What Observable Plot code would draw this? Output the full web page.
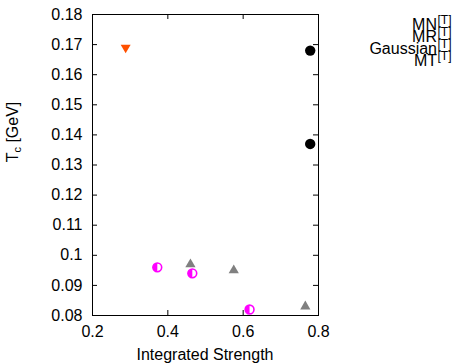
<!DOCTYPE html>
<html>
<head>
<meta charset="utf-8">
<script src="https://cdn.jsdelivr.net/npm/d3@7"></script>
<script src="https://cdn.jsdelivr.net/npm/@observablehq/plot@0.6"></script>
<style>
  body { margin: 0; background: #fff; }
  #wrap { position: relative; width: 454px; height: 363px; font-family: "Liberation Sans", Arial, sans-serif; }
</style>
</head>
<body>
<div id="wrap"></div>
<script>
// Series
const seriesNames = ["MN", "MR", "Gaussian", "MT"];
const blackX = [0.778, 0.778];
const blackY = [0.168, 0.137];
const orangeX = [0.288];
const orangeY = [0.169];
const grayX = [0.460, 0.575, 0.765];
const grayY = [0.097, 0.095, 0.083];
const magentaX = [0.372, 0.465, 0.617];
const magentaY = [0.096, 0.094, 0.082];

const xTicks = [0.2, 0.4, 0.6, 0.8];
const yTicks = [0.08, 0.09, 0.1, 0.11, 0.12, 0.13, 0.14, 0.15, 0.16, 0.17, 0.18];
const xDomain = [0.2, 0.8];
const yDomain = [0.08, 0.18];

const pts = (xs, ys) => xs.map((x, i) => ({x, y: ys[i]}));

const halfLeft = {
  draw(ctx, size) {
    const r = Math.sqrt(size / Math.PI);
    ctx.moveTo(0, -r);
    ctx.arc(0, 0, r, -Math.PI / 2, Math.PI / 2, true);
    ctx.closePath();
  }
};

const W = 454, H = 363;
const mL = 92, mR = 136, mT = 14, mB = 48;
const tick = 5;
const dxTick = (xDomain[1] - xDomain[0]) * tick / (W - mL - mR);
const dyTick = (yDomain[1] - yDomain[0]) * tick / (H - mT - mB);

const chart = Plot.plot({
  width: W, height: H,
  marginLeft: mL, marginRight: mR, marginTop: mT, marginBottom: mB,
  style: {fontSize: "16px", fontFamily: "'Liberation Sans', Arial, sans-serif", background: "white", color: "black"},
  x: {domain: xDomain, label: null},
  y: {domain: yDomain, label: null},
  marks: [
    Plot.axisX({ticks: xTicks, tickSize: 0, tickPadding: 10, tickFormat: d => String(d)}),
    Plot.axisY({ticks: yTicks, tickSize: 0, tickPadding: 10, tickFormat: d => String(+d.toFixed(2))}),
    // inward mirrored ticks
    Plot.ruleX(xTicks, {x: d => d, y1: yDomain[0], y2: yDomain[0] + dyTick, stroke: "black"}),
    Plot.ruleX(xTicks, {x: d => d, y1: yDomain[1], y2: yDomain[1] - dyTick, stroke: "black"}),
    Plot.ruleY(yTicks, {y: d => d, x1: xDomain[0], x2: xDomain[0] + dxTick, stroke: "black"}),
    Plot.ruleY(yTicks, {y: d => d, x1: xDomain[1], x2: xDomain[1] - dxTick, stroke: "black"}),
    Plot.frame({stroke: "black"}),
    Plot.dot(pts(blackX, blackY), {x: "x", y: "y", r: 5.2, fill: "black", stroke: null}),
    Plot.dot(pts(orangeX, orangeY), {x: "x", y: "y", symbol: "triangle", rotate: 180, r: 3.7, fill: "#ff5000", stroke: null}),
    Plot.dot(pts(grayX, grayY), {x: "x", y: "y", symbol: "triangle", r: 3.8, fill: "#808080", stroke: null}),
    Plot.dot(pts(magentaX, magentaY), {x: "x", y: "y", r: 4.4, fill: "white", stroke: "#ff00ff", strokeWidth: 1.6}),
    Plot.dot(pts(magentaX, magentaY), {x: "x", y: "y", r: 4.4, symbol: halfLeft, fill: "#ff00ff", stroke: null})
  ]
});

const svg = d3.select(chart);
// x-axis label
svg.append("text")
  .attr("x", (mL + (W - mR)) / 2).attr("y", 359.5)
  .attr("text-anchor", "middle").attr("fill", "black")
  .text("Integrated Strength");
// y-axis label with subscript
const yl = svg.append("text")
  .attr("transform", "translate(18,132) rotate(-90)")
  .attr("text-anchor", "middle").attr("fill", "black");
yl.append("tspan").text("T");
yl.append("tspan").attr("font-size", "11px").attr("dy", 3).text("c");
yl.append("tspan").attr("dy", -3).text(" [GeV]");

// legend (its symbols fall outside the picture in the reference)
const lg = svg.append("g");
seriesNames.forEach((n, i) => {
  const base = 30 + i * 12;
  lg.append("text")
    .attr("x", 437).attr("y", base)
    .attr("text-anchor", "end").attr("fill", "black")
    .text(n);
  lg.append("text")
    .attr("x", 437.5).attr("y", base - 6.5)
    .attr("text-anchor", "start")
    .attr("font-size", "12px").attr("fill", "black")
    .text("[T]");
});

document.getElementById("wrap").appendChild(chart);
</script>
</body>
</html>
